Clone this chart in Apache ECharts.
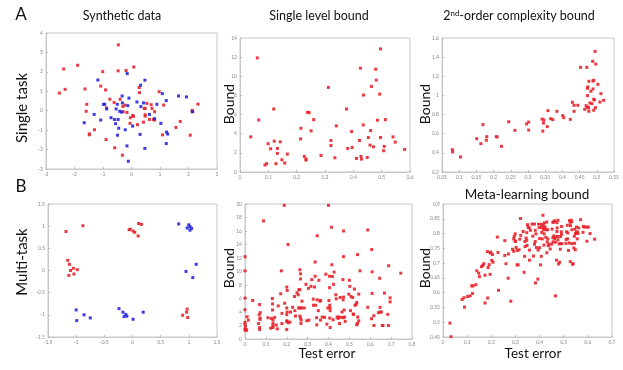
<!DOCTYPE html>
<html>
<head>
<meta charset="utf-8">
<script src="https://cdn.jsdelivr.net/npm/echarts@6/dist/echarts.min.js"></script>
<style>
html, body { margin: 0; padding: 0; background: #fff; }
#main { width: 623px; height: 370px; }
</style>
</head>
<body>
<div id="main"></div>
<script>
// A: single task, synthetic data
var synthSingleRed = [[-0.46,3.39],[-2.38,2.15],[-1.89,2.34],[-2.53,0.91],[-2.33,1.10],[-1.01,2.01],[-0.47,2.05],[-0.19,2.07],[0.08,2.25],
  [-1.08,1.27],[-0.91,1.07],[-1.63,1.12],[-1.57,0.33],[-1.59,-0.03],[-0.76,0.59],[-0.88,0.15],[-0.61,0.43],[-0.40,0.59],[-0.30,0.22],
  [-0.23,0.29],[-0.29,-0.05],[-0.16,-0.09],[-0.04,-0.36],[0.04,-0.24],[0.07,-0.29],[0.27,1.19],[0.28,0.93],[0.45,0.12],[0.48,0.12],
  [0.54,0.38],[0.69,0.31],[0.72,0.12],[0.63,-0.45],[0.77,-0.45],[0.81,-0.05],[0.81,-0.48],[0.97,0.98],[1.13,0.29],[0.42,-0.59],
  [0.48,-0.28],[0.48,-0.21],[0.21,-0.72],[-0.05,-0.65],[-1.30,-0.98],[-1.48,-1.19],[-1.48,-1.24],[-0.89,-1.48],[-0.59,-1.91],
  [-0.32,-2.29],[1.09,-1.24],[1.56,-0.86],[1.71,-0.55],[2.15,-0.05],[2.13,0.02],[2.06,-1.26],[2.33,0.34]];
var synthSingleBlue = [[-1.18,1.58],[-0.15,1.91],[0.47,1.57],[0.32,1.31],[-0.33,0.76],[-0.09,0.65],[-0.32,0.40],[-0.98,0.33],[-0.94,0.33],
  [-0.87,0.09],[-0.54,0.09],[-0.50,0.33],[-0.13,0.26],[-0.41,-0.03],[-0.35,-0.07],[-1.31,-0.19],[-1.66,-0.62],[-0.72,-0.36],[-0.60,-0.45],
  [-0.56,-0.67],[-0.47,-0.45],[-1.08,-0.48],[-0.45,-0.90],[-0.49,-1.26],[-0.22,-0.98],[0.04,-0.79],[0.19,0.45],[0.33,0.21],[0.42,0.40],
  [0.63,-0.19],[0.89,0.33],[1.22,0.52],[0.81,-0.41],[1.03,-0.65],[1.08,0.88],[1.65,0.76],[1.93,0.71],[2.13,-0.05],[1.23,-1.10],
  [1.27,-1.20],[1.22,-1.69],[0.30,-1.22],[0.47,-1.94],[-0.16,-1.81],[-0.11,-2.60]];

// single level bound: [test error, bound]
var singleLevel = [[0.038,3.67],[0.061,11.92],[0.066,5.44],[0.088,0.73],[0.094,0.87],[0.099,2.95],[0.108,2.43],[0.119,6.58],[0.121,3.22],
  [0.127,0.87],[0.132,2.46],[0.132,1.94],[0.142,3.15],[0.148,1.28],[0.158,0.94],[0.167,1.87],[0.215,4.57],[0.214,3.46],[0.227,1.63],
  [0.233,1.35],[0.233,1.25],[0.238,6.24],[0.244,6.20],[0.251,4.30],[0.260,5.47],[0.286,1.73],[0.312,8.84],[0.321,3.29],[0.321,2.77],
  [0.335,1.49],[0.340,4.82],[0.376,6.58],[0.380,2.46],[0.394,4.23],[0.396,2.56],[0.411,1.42],[0.422,3.29],[0.425,10.85],[0.427,1.63],
  [0.429,1.35],[0.436,8.04],[0.435,4.92],[0.449,1.52],[0.453,3.60],[0.459,2.81],[0.464,8.94],[0.461,4.33],[0.471,2.63],[0.479,10.74],
  [0.481,9.60],[0.485,5.41],[0.493,8.14],[0.496,12.86],[0.496,3.60],[0.507,2.22],[0.509,2.67],[0.513,5.47],[0.540,3.67],[0.548,3.12],
  [0.581,2.36]];

// 2nd-order complexity bound
var secondOrder = [[0.080,0.433],[0.081,0.409],[0.104,0.357],[0.151,0.548],[0.163,0.496],[0.169,0.695],[0.179,0.531],[0.180,0.569],
  [0.208,0.569],[0.210,0.566],[0.223,0.468],[0.244,0.725],[0.262,0.635],[0.296,0.702],[0.302,0.722],[0.302,0.638],[0.341,0.753],
  [0.343,0.627],[0.346,0.743],[0.345,0.712],[0.356,0.674],[0.358,0.841],[0.366,0.757],[0.372,0.747],[0.384,0.834],[0.401,0.789],
  [0.404,0.768],[0.423,0.750],[0.429,0.928],[0.434,0.897],[0.434,0.834],[0.445,0.897],[0.453,1.294],[0.465,0.855],[0.469,0.893],
  [0.471,1.294],[0.473,1.075],[0.474,1.089],[0.473,0.998],[0.472,0.879],[0.475,0.872],[0.476,0.872],[0.477,1.148],[0.477,0.834],
  [0.480,0.921],[0.483,1.043],[0.486,0.914],[0.488,1.356],[0.489,1.151],[0.491,1.158],[0.489,1.068],[0.491,0.960],[0.493,0.953],
  [0.491,0.845],[0.495,1.460],[0.497,1.328],[0.496,0.872],[0.503,1.116],[0.509,0.931],[0.512,1.019],[0.520,0.949]];

// B: multi-task synthetic data
var synthMultiRed = [[-1.18,0.88],[-0.88,1.01],[-1.15,0.23],[-1.12,0.14],[-1.10,0.00],[-1.05,0.05],[-1.13,-0.11],[-1.04,-0.08],[-0.98,0.02],
  [-0.06,0.92],[-0.04,0.93],[0.01,0.89],[0.04,0.86],[0.10,0.78],[0.11,1.06],[0.16,1.04],[0.97,-0.87],[0.96,-0.94],[0.89,-1.01],[0.98,-1.06]];
var synthMultiBlue = [[0.82,1.05],[1.00,1.03],[1.02,0.99],[0.97,0.96],[1.05,0.95],[1.02,0.91],[0.95,-0.02],[1.13,0.14],[1.07,-0.16],
  [-1.00,-0.89],[-0.99,-1.13],[-0.86,-1.00],[-0.75,-1.07],[-0.24,-0.86],[-0.17,-0.94],[-0.15,-1.04],[-0.12,-0.99],[-0.10,-1.03],
  [0.01,-1.10],[0.19,-0.94]];

// multi-task single level bound
var multiBound = [[0,12.2],[0,10.1],[0,6.06],[0,4.33],[0,2.46],[0,2.2],[0.002,1.9],[0,1.5],[0.001,1.3],[0.005,1.4],[0.01,3.3],[0.016,2.8],
  [0.008,1.3],[0.037,5.7],[0.068,3.6],[0.07,5.1],[0.073,3.9],[0.072,3.1],[0.072,2.9],[0.065,2.3],[0.07,1.7],[0.07,1.4],[0.089,17.5],
  [0.11,3.15],[0.123,1.6],[0.127,3.05],[0.131,6.0],[0.132,5.2],[0.132,4.3],[0.134,2.8],[0.134,2.3],[0.134,2.0],[0.134,1.7],[0.142,3.2],
  [0.15,2.07],[0.155,1.5],[0.159,4.9],[0.171,6.7],[0.174,10.1],[0.177,3.8],[0.177,2.3],[0.188,19.8],[0.19,5.3],[0.2,7.7],[0.2,3.6],
  [0.2,4.6],[0.202,7.2],[0.2,2.7],[0.201,2.6],[0.202,4.0],[0.2,1.4],[0.206,14.0],[0.207,2.4],[0.215,2.5],[0.218,4.0],[0.228,4.7],
  [0.237,6.3],[0.239,4.2],[0.242,3.4],[0.249,6.85],[0.255,6.55],[0.257,4.6],[0.258,7.3],[0.263,10.25],[0.266,9.65],[0.266,8.9],
  [0.263,7.3],[0.263,4.6],[0.263,3.4],[0.266,3.1],[0.269,2.8],[0.268,2.3],[0.271,4.6],[0.273,5.6],[0.284,4.6],[0.292,8.1],[0.296,2.7],
  [0.304,7.5],[0.306,2.8],[0.316,7.8],[0.32,8.8],[0.327,5.9],[0.328,5.0],[0.333,7.7],[0.336,11.4],[0.336,9.3],[0.338,5.0],[0.343,3.15],
  [0.344,2.1],[0.346,15.3],[0.346,5.8],[0.351,4.2],[0.354,8.7],[0.359,5.6],[0.362,5.7],[0.362,2.8],[0.37,3.25],[0.381,3.2],[0.387,9.6],
  [0.392,2.2],[0.397,4.6],[0.4,19.8],[0.402,5.7],[0.405,9.3],[0.405,7.6],[0.406,5.0],[0.407,4.6],[0.408,4.2],[0.406,3.1],[0.408,1.7],
  [0.414,16.55],[0.416,11.0],[0.419,9.25],[0.422,2.85],[0.424,8.1],[0.427,9.9],[0.435,6.55],[0.437,5.95],[0.441,3.25],[0.446,3.05],
  [0.449,3.25],[0.453,2.3],[0.456,6.15],[0.461,3.2],[0.465,4.0],[0.469,8.8],[0.472,16.0],[0.472,12.2],[0.472,6.2],[0.47,5.8],
  [0.472,3.15],[0.475,4.3],[0.476,3.25],[0.48,2.6],[0.497,6.65],[0.5,8.7],[0.502,7.8],[0.505,4.2],[0.508,6.3],[0.516,6.15],[0.518,3.7],
  [0.52,3.65],[0.524,7.4],[0.527,5.0],[0.532,5.1],[0.535,5.4],[0.535,2.1],[0.539,2.3],[0.54,3.25],[0.539,12.5],[0.545,6.65],[0.545,2.7],
  [0.551,10.1],[0.588,4.7],[0.588,16.15],[0.607,13.25],[0.609,9.95],[0.609,6.75],[0.606,3.0],[0.617,3.45],[0.618,2.0],[0.639,3.9],
  [0.645,9.0],[0.647,4.7],[0.649,4.0],[0.653,4.0],[0.658,2.0],[0.661,2.0],[0.668,6.8],[0.684,3.65],[0.687,2.0],[0.688,10.85],
  [0.695,6.1],[0.695,5.5],[0.746,9.75]];

// meta-learning bound
var metaBound = [[0.029,0.497],[0.033,0.451],[0.079,0.577],[0.087,0.583],[0.089,0.551],[0.102,0.587],[0.112,0.589],[0.119,0.623],
  [0.122,0.597],[0.124,0.623],[0.136,0.627],[0.14,0.674],[0.148,0.666],[0.151,0.654],[0.159,0.688],[0.165,0.692],[0.169,0.698],
  [0.174,0.659],[0.174,0.565],[0.184,0.739],[0.185,0.582],[0.187,0.685],[0.191,0.695],[0.195,0.662],[0.196,0.734],[0.198,0.737],
  [0.202,0.709],[0.205,0.729],[0.207,0.703],[0.23,0.608],[0.228,0.736],[0.225,0.788],[0.256,0.776],[0.256,0.726],[0.261,0.698],
  [0.27,0.649],[0.271,0.731],[0.281,0.571],[0.288,0.747],[0.293,0.782],[0.293,0.740],[0.299,0.799],[0.299,0.775],[0.295,0.790],
  [0.300,0.773],[0.303,0.753],[0.307,0.694],[0.308,0.743],[0.311,0.694],[0.315,0.745],[0.318,0.781],[0.321,0.851],[0.322,0.794],
  [0.332,0.807],[0.336,0.669],[0.338,0.723],[0.339,0.773],[0.34,0.756],[0.344,0.785],[0.347,0.777],[0.347,0.803],[0.348,0.760],
  [0.35,0.830],[0.353,0.821],[0.357,0.819],[0.358,0.744],[0.358,0.710],[0.362,0.811],[0.369,0.832],[0.372,0.791],[0.375,0.724],
  [0.379,0.832],[0.382,0.773],[0.379,0.764],[0.382,0.811],[0.383,0.633],[0.385,0.799],[0.387,0.753],[0.393,0.646],[0.394,0.744],
  [0.396,0.832],[0.398,0.820],[0.4,0.783],[0.4,0.752],[0.404,0.694],[0.407,0.821],[0.407,0.723],[0.408,0.831],[0.409,0.804],
  [0.411,0.782],[0.414,0.862],[0.415,0.829],[0.416,0.813],[0.417,0.820],[0.418,0.761],[0.419,0.799],[0.42,0.836],[0.423,0.822],
  [0.426,0.787],[0.427,0.813],[0.43,0.839],[0.43,0.735],[0.432,0.772],[0.433,0.813],[0.434,0.782],[0.436,0.759],[0.439,0.764],
  [0.444,0.748],[0.45,0.764],[0.452,0.815],[0.455,0.786],[0.455,0.838],[0.456,0.772],[0.458,0.839],[0.459,0.792],[0.462,0.843],
  [0.462,0.783],[0.463,0.788],[0.466,0.771],[0.466,0.589],[0.47,0.710],[0.472,0.837],[0.472,0.807],[0.473,0.819],[0.474,0.790],
  [0.476,0.779],[0.476,0.845],[0.479,0.697],[0.481,0.765],[0.483,0.703],[0.486,0.747],[0.486,0.766],[0.487,0.790],[0.49,0.806],
  [0.491,0.797],[0.491,0.824],[0.492,0.766],[0.509,0.767],[0.51,0.780],[0.512,0.806],[0.515,0.828],[0.516,0.782],[0.517,0.802],
  [0.52,0.743],[0.523,0.768],[0.524,0.844],[0.527,0.838],[0.527,0.705],[0.528,0.827],[0.531,0.845],[0.533,0.840],[0.534,0.813],
  [0.534,0.766],[0.537,0.696],[0.539,0.698],[0.542,0.751],[0.544,0.791],[0.545,0.767],[0.546,0.815],[0.548,0.745],[0.549,0.800],
  [0.552,0.802],[0.553,0.822],[0.553,0.805],[0.556,0.782],[0.557,0.805],[0.559,0.800],[0.562,0.819],[0.57,0.847],[0.58,0.804],
  [0.582,0.824],[0.585,0.822],[0.595,0.822],[0.596,0.774],[0.602,0.822],[0.609,0.800],[0.628,0.781]];

// axis ranges [xmin, xmax, xstep, ymin, ymax, ystep]
var axisRanges = [
  [-3, 3, 1, -3, 4, 1],
  [0, 0.6, 0.1, 0, 14, 2],
  [0.05, 0.55, 0.05, 0.2, 1.6, 0.2],
  [-1.5, 1.5, 0.5, -1.5, 1.5, 0.5],
  [0, 0.8, 0.1, 0, 20, 2],
  [0, 0.7, 0.1, 0.45, 0.9, 0.05]
];

var RED = '#e8232b';
var BLUE = '#2626dc';
var FONT = 'Lato, "Open Sans", sans-serif';

var chart = echarts.init(document.getElementById('main'), null, { renderer: 'canvas' });

var grids = [
  { left: 46, top: 33, width: 171, height: 136 },
  { left: 240, top: 38, width: 170, height: 134 },
  { left: 442, top: 38, width: 172, height: 134 },
  { left: 48, top: 204, width: 169, height: 133 },
  { left: 245, top: 204, width: 167, height: 135 },
  { left: 443, top: 204, width: 169, height: 133 }
];

function fmt(v) { return String(+v.toFixed(2)); }

function mkAxis(i, isX) {
  var r = axisRanges[i];
  return {
    type: 'value',
    gridIndex: i,
    min: isX ? r[0] : r[3],
    max: isX ? r[1] : r[4],
    interval: isX ? r[2] : r[5],
    splitLine: { show: false },
    axisLine: { onZero: false, lineStyle: { color: '#c8c8c8', width: 1 } },
    axisTick: { inside: true, length: 2, lineStyle: { color: '#bbb' } },
    axisLabel: { fontSize: 5, color: '#888', margin: 3, formatter: fmt, fontFamily: FONT }
  };
}

var xAxes = [], yAxes = [];
for (var i = 0; i < 6; i++) {
  grids[i].show = true;
  grids[i].borderColor = '#c8c8c8';
  grids[i].borderWidth = 1;
  grids[i].containLabel = false;
  xAxes.push(mkAxis(i, true));
  yAxes.push(mkAxis(i, false));
}

function sc(idx, data, color) {
  return {
    type: 'scatter', xAxisIndex: idx, yAxisIndex: idx, data: data,
    symbol: 'rect', symbolSize: 3,
    itemStyle: { color: color, opacity: 0.9 },
    silent: true, animation: false
  };
}

function txt(x, y, s, size, rot) {
  return {
    type: 'text', x: x, y: y, rotation: rot || 0,
    style: { text: s, font: size + 'px ' + FONT, fill: '#111', align: 'center', verticalAlign: 'middle' }
  };
}

var option = {
  animation: false,
  grid: grids,
  xAxis: xAxes,
  yAxis: yAxes,
  series: [
    sc(0, synthSingleRed, RED), sc(0, synthSingleBlue, BLUE),
    sc(1, singleLevel, RED),
    sc(2, secondOrder, RED),
    sc(3, synthMultiRed, RED), sc(3, synthMultiBlue, BLUE),
    sc(4, multiBound, RED),
    sc(5, metaBound, RED)
  ],
  graphic: [
    txt(21, 15, 'A', 17),
    txt(21, 187, 'B', 17),
    txt(122, 16, 'Synthetic data', 12.5),
    txt(319, 16, 'Single level bound', 12.5),
    {
      type: 'text', x: 519, y: 16,
      style: {
        text: '{a|2}{s|nd}{a|-order complexity bound}',
        align: 'center', verticalAlign: 'middle',
        rich: {
          a: { font: '12.5px ' + FONT, fill: '#111' },
          s: { font: '8px ' + FONT, fill: '#111', verticalAlign: 'top', padding: [0, 0, 6, 0] }
        }
      }
    },
    txt(527, 195, 'Meta-learning bound', 13.5),
    txt(22, 108, 'Single task', 15, Math.PI / 2),
    txt(22, 262, 'Multi-task', 15, Math.PI / 2),
    txt(229, 104, 'Bound', 14, Math.PI / 2),
    txt(425, 104, 'Bound', 14, Math.PI / 2),
    txt(229, 268, 'Bound', 14, Math.PI / 2),
    txt(425, 268, 'Bound', 14, Math.PI / 2),
    txt(327, 354, 'Test error', 13.5),
    txt(533, 354, 'Test error', 13.5)
  ]
};
chart.setOption(option);
</script>
</body>
</html>
